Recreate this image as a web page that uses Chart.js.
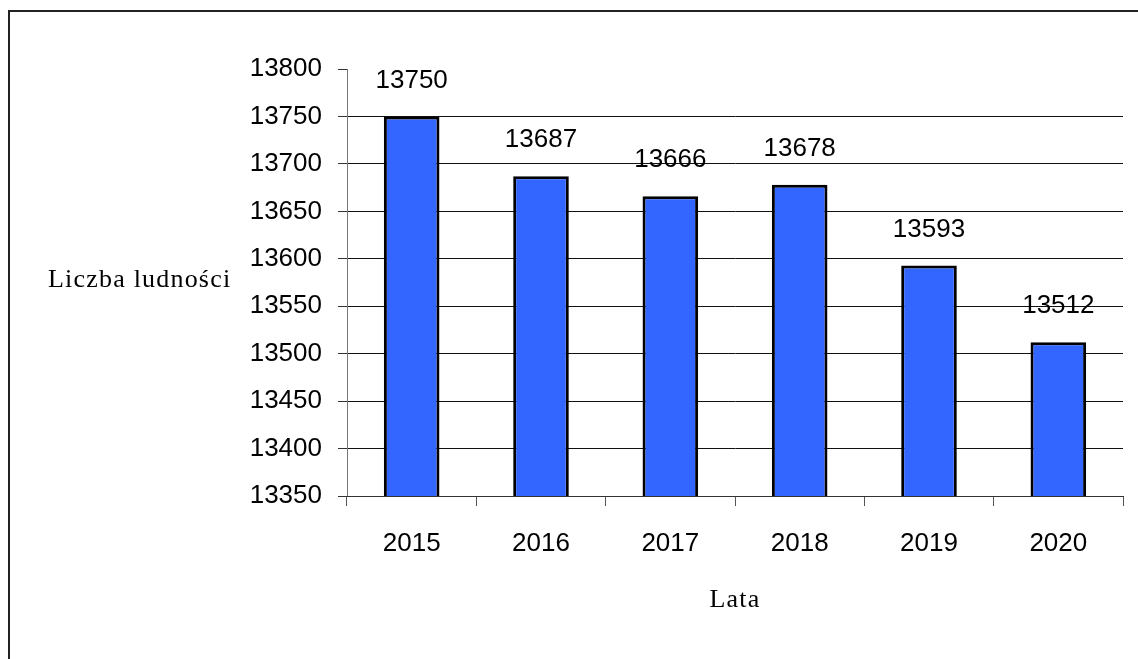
<!DOCTYPE html>
<html>
<head>
<meta charset="utf-8">
<script src="https://cdn.jsdelivr.net/npm/chart.js@4/dist/chart.umd.min.js"></script>
<style>
  body { margin: 0; background: #fff; }
  #wrap { position: relative; width: 1138px; height: 659px; }
  #frame { position: absolute; left: 8px; top: 10px; right: -5px; bottom: -5px; border-left: 2px solid #222; border-top: 2px solid #222; }
  canvas { position: absolute; left: 0; top: 0; }
</style>
</head>
<body>
<div id="wrap">
  <div id="frame"></div>
  <canvas id="chart" width="1138" height="659"></canvas>
</div>
<script>
const years = ["2015", "2016", "2017", "2018", "2019", "2020"];
const population = [13750, 13687, 13666, 13678, 13593, 13512];
const yMin = 13350;
const yMax = 13800;
const yStep = 50;
const yTitle = "Liczba ludności";
const xTitle = "Lata";

const sansFont = "'Liberation Sans', Arial, sans-serif";
const serifFont = "'Liberation Serif', 'Times New Roman', serif";

const textPlugin = {
  id: "texts",
  afterDatasetsDraw(chart) {
    const ctx = chart.ctx;
    const meta = chart.getDatasetMeta(0);
    ctx.save();
    ctx.fillStyle = "#000";
    ctx.font = "26px " + sansFont;
    ctx.textAlign = "center";
    ctx.textBaseline = "middle";
    meta.data.forEach((bar, i) => {
      ctx.fillText(String(population[i]), bar.x, bar.y - 36);
    });
    ctx.restore();
  },
  afterDraw(chart) {
    const ctx = chart.ctx;
    const area = chart.chartArea;
    ctx.save();
    ctx.fillStyle = "#000";
    ctx.font = "26px " + serifFont;
    ctx.letterSpacing = "1.2px";
    ctx.textBaseline = "alphabetic";
    ctx.textAlign = "left";
    ctx.fillText(yTitle, 48, 287);
    ctx.textAlign = "center";
    ctx.fillText(xTitle, (area.left + area.right) / 2, 607);
    ctx.restore();
  }
};

new Chart(document.getElementById("chart"), {
  type: "bar",
  data: {
    labels: years,
    datasets: [{
      data: population,
      backgroundColor: "#3366FF",
      borderColor: "#000",
      borderWidth: 3,
      borderSkipped: false,
      barPercentage: 0.43,
      categoryPercentage: 1
    }]
  },
  options: {
    responsive: false,
    animation: false,
    layout: { padding: { top: 69, right: 15, left: 0, bottom: 0 } },
    plugins: {
      legend: { display: false },
      tooltip: { enabled: false }
    },
    scales: {
      y: {
        min: yMin,
        max: yMax,
        afterFit: (scale) => { scale.width = 347; },
        ticks: {
          stepSize: yStep,
          padding: 16,
          color: "#000",
          font: { family: sansFont, size: 26 },
          callback: (v) => String(v)
        },
        grid: {
          color: (c) => (c.tick && c.tick.value === yMax ? "rgba(0,0,0,0)" : "#111"),
          tickColor: "#333",
          tickLength: 9,
          lineWidth: 1
        },
        border: { color: "#777", width: 1 }
      },
      x: {
        afterFit: (scale) => { scale.height = 163; },
        ticks: {
          padding: 22,
          color: "#000",
          font: { family: sansFont, size: 26 }
        },
        grid: {
          drawOnChartArea: false,
          tickLength: 10,
          color: "#555"
        },
        border: { color: "#333", width: 1 }
      }
    }
  },
  plugins: [textPlugin]
});
</script>
</body>
</html>
